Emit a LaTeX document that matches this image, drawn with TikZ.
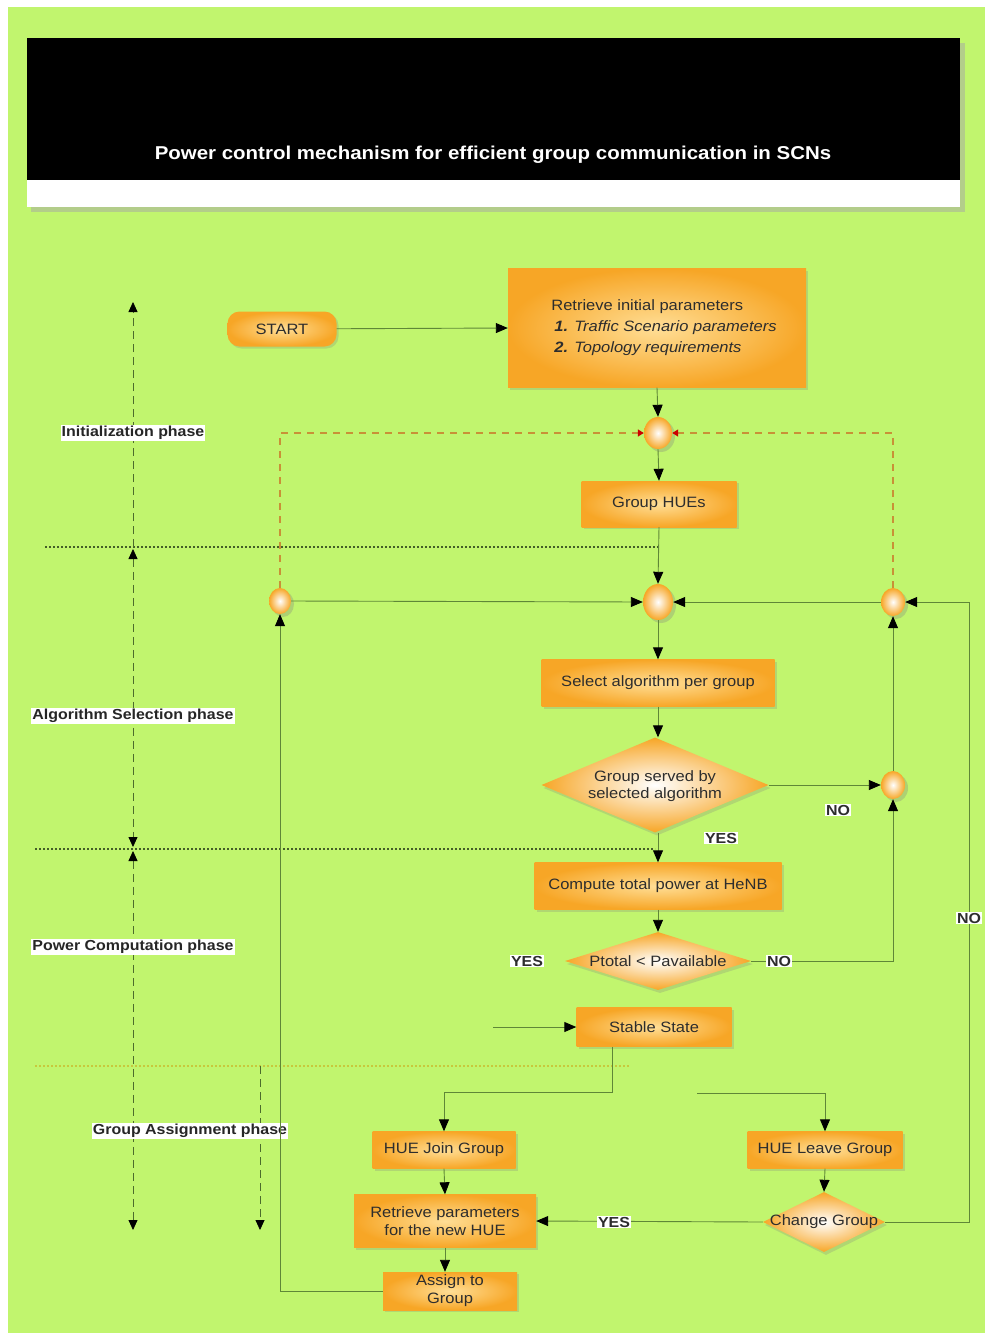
\documentclass[tikz,border=0pt]{standalone}
\usepackage{fontspec}
\setmainfont{Liberation Sans}[FakeStretch=1.1]
\usetikzlibrary{arrows.meta,shapes.geometric,shadows,calc}
\definecolor{bggreen}{RGB}{193,245,110}
\definecolor{boxout}{RGB}{247,166,38}
\definecolor{boxin}{RGB}{255,222,150}
\definecolor{linecol}{RGB}{95,135,55}
\definecolor{dashcol}{RGB}{200,145,55}
\definecolor{txtcol}{RGB}{45,45,45}
\tikzset{
  box/.style={rectangle, inner color=boxin, outer color=boxout, text=txtcol,
    font=\fontsize{15}{18}\selectfont, align=center, inner sep=2pt,
    drop shadow={opacity=0.25, shadow xshift=2pt, shadow yshift=-2pt}},
  dia/.style={diamond, inner color=white, outer color=boxout, text=txtcol,
    inner sep=0pt,
    drop shadow={opacity=0.25, shadow xshift=2pt, shadow yshift=-3pt}},
  dtext/.style={font=\fontsize{15}{17}\selectfont, text=txtcol, align=center},
  junc/.style={ellipse, inner color=white, outer color=boxout, inner sep=0pt,
    drop shadow={opacity=0.3, shadow xshift=3pt, shadow yshift=-3pt}},
  conn/.style={draw=linecol, line width=0.9pt, -{Triangle[length=12pt,width=10pt,black]}},
  loop/.style={draw=dashcol, line width=1.3pt, dash pattern=on 7pt off 6pt},
  redtip/.style={-{Triangle[length=6pt,width=7pt,red!80!black]}},
  phase/.style={draw=linecol!80!black, line width=0.8pt, dash pattern=on 8pt off 5pt},
  sep/.style={draw=linecol!70!black, line width=1.3pt, dash pattern=on 2pt off 2pt},
  yn/.style={fill=white, inner sep=1pt, font=\bfseries\fontsize{14.5}{16}\selectfont, text=txtcol},
  phlabel/.style={fill=white, inner sep=1pt, font=\bfseries\fontsize{14.5}{16}\selectfont, text=black!85}
}
\begin{document}
\begin{tikzpicture}[x=1pt,y=-1pt]
\useasboundingbox (0,0) rectangle (985,1339);
\fill[white] (0,0) rectangle (985,1339);
\fill[bggreen] (8,7) rectangle (985,1333);
% header
\fill[black!35, opacity=0.5] (31,43) rectangle (965,212);
\fill[black] (27,38) rectangle (960,180);
\fill[white] (27,180) rectangle (960,207);
\node[text=white, font=\bfseries\fontsize{18.6}{21}\selectfont] (title) at (493,155) {Power control mechanism for efficient group communication in SCNs};

% phase separators
\draw[sep] (45,547) -- (658,547);
\draw[sep] (35,849) -- (655,849);
\draw[sep, draw=yellow!60!linecol] (35,1066) -- (630,1066);

% phase arrows
\draw[phase, -{Triangle[length=10pt,width=9pt,black]}] (133,547) -- (133,302);
\draw[phase, {Triangle[length=10pt,width=9pt,black]}-{Triangle[length=10pt,width=9pt,black]}] (133,549) -- (133,847);
\draw[phase, {Triangle[length=10pt,width=9pt,black]}-{Triangle[length=10pt,width=9pt,black]}] (133,851) -- (133,1230);
\draw[phase, -{Triangle[length=10pt,width=9pt,black]}] (260,1066) -- (260,1230);

\node[phlabel] (lab1) at (133,433) {Initialization phase};
\node[phlabel] (lab2) at (133,716) {Algorithm Selection phase};
\node[phlabel] (lab3) at (133,947) {Power Computation phase};
\node[phlabel] (lab4) at (190,1131) {Group Assignment phase};

% nodes
\node[box, rounded corners=12pt, minimum width=109, minimum height=35] (start) at (282,329) {START};
\node[box, minimum width=298, minimum height=119, align=left] (ret) at (657,328)
  {\hspace*{14pt}Retrieve initial parameters\\[3pt]
   \hspace*{17pt}\textbf{\textit{1.}} \textit{Traffic Scenario parameters}\\[3pt]
   \hspace*{17pt}\textbf{\textit{2.}} \textit{Topology requirements}};
\node[junc, minimum width=28, minimum height=32] (J1) at (658,433) {};
\node[box, minimum width=155, minimum height=46] (gh) at (659,504) {Group HUEs};
\node[junc, minimum width=30, minimum height=36] (J2) at (658,602) {};
\node[junc, minimum width=22, minimum height=26] (L) at (280,601) {};
\node[junc, minimum width=24, minimum height=28] (R) at (893,602) {};
\node[box, minimum width=233, minimum height=47] (sel) at (658,683) {Select algorithm per group};
\node[dia, minimum width=227, minimum height=95, label={[dtext, yshift=-1pt]center:Group served by\\selected algorithm}] (d1) at (655,785) {};
\node[junc, minimum width=24, minimum height=28] (C3) at (893,785) {};
\node[box, minimum width=247, minimum height=47] (comp) at (658,886) {Compute total power at HeNB};
\node[dia, minimum width=186, minimum height=58, label={[dtext]center:Ptotal < Pavailable}] (d2) at (658,961) {};
\node[box, minimum width=155, minimum height=39] (stable) at (654,1027) {Stable State};
\node[box, minimum width=143, minimum height=37] (join) at (444,1150) {HUE Join Group};
\node[box, minimum width=155, minimum height=37] (leave) at (825,1150) {HUE Leave Group};
\node[box, minimum width=182, minimum height=53] (rp) at (445,1221) {Retrieve parameters\\for the new HUE};
\node[dia, minimum width=122, minimum height=60, label={[dtext]center:Change Group}] (cg) at (824,1222) {};
\node[box, minimum width=134, minimum height=38] (assign) at (450,1291) {Assign to\\Group};

\coordinate (inS) at (493,1027);
\coordinate (inL) at (697,1093);

% dashed feedback loops
\draw[loop, redtip] (L.north) |- (J1.west);
\draw[loop, redtip] (R.north) |- (J1.east);

% connectors
\draw[conn] (start) -- (ret.west);
\draw[conn] (ret.south) -- (J1.north);
\draw[conn] (J1.south) -- (gh.north);
\draw[conn] (gh.south) -- (J2.north);
\draw[conn] (L.east) -- (J2.west);
\draw[conn] (R.west) -- (J2.east);
\draw[conn] (J2.south) -- (sel.north);
\draw[conn] (sel.south) -- (sel.south |- d1.north);
\draw[conn] (d1.east) -- (C3.west);
\draw[conn] (C3.north) -- (R.south);
\draw[conn] (d1.south -| comp.north) -- (comp.north);
\draw[conn] (comp.south) -- (d2.north);
\draw[conn] (d2.east) -| (C3.south);
\draw[conn] (inS) -- (stable.west);
\draw[conn] ([xshift=-42pt]stable.south) -- ++(0,46) -| (join.north);
\draw[conn] (inL) -| (leave.north);
\draw[conn] (join.south) -- (rp.north);
\draw[conn] (leave.south) -- (cg.north);
\draw[conn] (rp.south) -- (rp.south |- assign.north);
\draw[conn] (cg.west) -- (rp.east);
\draw[conn] (cg.east) -- (969,1222) |- (R.east);
\draw[conn] (assign.west) -| (L.south);

% branch labels
\node[yn] (no1) at (838,810) {NO};
\node[yn] (yes1) at (721,838) {YES};
\node[yn] (yes2) at (527,961) {YES};
\node[yn] (no2) at (779,961) {NO};
\node[yn] (yes3) at (614,1222) {YES};
\node[yn] (no3) at (969,918) {NO};
\end{tikzpicture}
\end{document}
